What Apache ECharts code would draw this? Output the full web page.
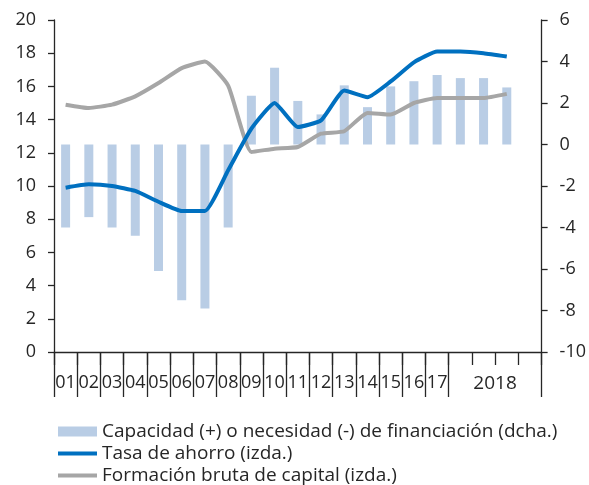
<!DOCTYPE html>
<html>
<head>
<meta charset="UTF-8">
<title>Ahorro e inversion</title>
<script type="text/javascript" src="https://cdn.jsdelivr.net/npm/echarts@6/dist/echarts.min.js"></script>
</head>
<body style="margin:0">
	<div id="div" style="width:589px;height:485px"></div>

	<script type="text/javascript">
		// categorias: 01..17 anuales y cuatro trimestres de 2018
		var categories = ['01', '02', '03', '04', '05', '06', '07', '08', '09', '10', '11', '12', '13', '14', '15', '16', '17', '18T1', '18T2', '18T3', '18T4'];
		var tickLabels = ['01', '02', '03', '04', '05', '06', '07', '08', '09', '10', '11', '12', '13', '14', '15', '16', '17', '', '2018', '', ''];
		var capacidad = [-4.0, -3.5, -4.0, -4.4, -6.1, -7.5, -7.9, -4.0, 2.35, 3.7, 2.1, 1.45, 2.85, 1.8, 2.8, 3.05, 3.35, 3.2, 3.2, 2.75, null];
		var ahorro = [9.9, 10.1, 10.0, 9.7, 9.05, 8.5, 8.5, 10.95, 13.45, 15.0, 13.55, 13.95, 15.75, 15.35, 16.3, 17.45, 18.1, 18.1, 18.0, 17.8, null];
		var formacion = [14.9, 14.7, 14.9, 15.4, 16.2, 17.1, 17.5, 16.05, 12.05, 12.25, 12.35, 13.15, 13.3, 14.4, 14.3, 15.0, 15.3, 15.3, 15.3, 15.55, null];
		var leftTicks = [0, 20, 2];
		var rightTicks = [-10, 6, 2];

		var fontName = 'Open Sans';
		var axisColor = '#262626';
		var hideDot = { color : 'rgba(0,0,0,0)', borderWidth : 0, opacity : 0 };

		var mychart = echarts.init(document.getElementById('div'));
		var option = {
			animation : false,
			textStyle : {
				fontFamily : fontName
			},
			grid : {
				left : 54,
				right : 47,
				top : 20,
				bottom : 133
			},
			legend : {
				orient : 'vertical',
				left : 56,
				top : 422,
				height : 64,
				padding : 0,
				itemWidth : 39,
				itemHeight : 10,
				itemGap : 3,
				textStyle : {
					fontFamily : fontName,
					fontSize : 19,
					lineHeight : 18,
					color : '#262626'
				},
				data : [ {
					name : 'Capacidad (+) o necesidad (-) de financiación (dcha.)',
					icon : 'rect'
				}, {
					name : 'Tasa de ahorro (izda.)',
					itemStyle : hideDot,
					lineStyle : { width : 4 }
				}, {
					name : 'Formación bruta de capital (izda.)',
					itemStyle : hideDot,
					lineStyle : { width : 4 }
				} ]
			},
			xAxis : [ {
				type : 'category',
				data : categories,
				position : 'bottom',
				axisLine : {
					show : true,
					onZero : false,
					lineStyle : { color : axisColor, width : 1.3 }
				},
				axisTick : {
					show : true,
					interval : 0,
					length : 13,
					lineStyle : { color : axisColor, width : 1.3 }
				},
				axisLabel : {
					interval : 0,
					margin : 22,
					color : '#262626',
					fontFamily : fontName,
					fontSize : 18,
					formatter : function(value, index) {
						var t = tickLabels[index];
						if (t === '2018') {
							return '{a|' + t + '}';
						}
						return t;
					},
					rich : {
						a : {
							padding : [0, 0, 0, 23],
							fontFamily : fontName,
							fontSize : 19,
							color : '#262626'
						}
					}
				}
			}, {
				type : 'category',
				data : categories,
				position : 'bottom',
				axisLine : { show : false, onZero : false },
				axisTick : {
					show : true,
					interval : function(index) {
						return index <= 17;
					},
					length : 45,
					lineStyle : { color : axisColor, width : 1.3 }
				},
				axisLabel : { show : false }
			} ],
			yAxis : [ {
				type : 'value',
				min : leftTicks[0],
				max : leftTicks[1],
				interval : leftTicks[2],
				splitLine : { show : false },
				axisLine : {
					show : true,
					lineStyle : { color : axisColor, width : 1.3 }
				},
				axisTick : {
					show : true,
					length : 6,
					lineStyle : { color : axisColor, width : 1.3 }
				},
				axisLabel : {
					margin : 18,
					color : '#262626',
					fontFamily : fontName,
					fontSize : 18
				}
			}, {
				type : 'value',
				min : rightTicks[0],
				max : rightTicks[1],
				interval : rightTicks[2],
				splitLine : { show : false },
				axisLine : {
					show : true,
					lineStyle : { color : axisColor, width : 1.3 }
				},
				axisTick : {
					show : true,
					length : 6,
					lineStyle : { color : axisColor, width : 1.3 }
				},
				axisLabel : {
					margin : 18,
					color : '#262626',
					fontFamily : fontName,
					fontSize : 18
				}
			} ],
			series : [ {
				name : 'Capacidad (+) o necesidad (-) de financiación (dcha.)',
				type : 'bar',
				yAxisIndex : 1,
				barWidth : 9,
				itemStyle : { color : '#b9cde5' },
				data : capacidad
			}, {
				name : 'Tasa de ahorro (izda.)',
				type : 'line',
				yAxisIndex : 0,
				symbol : 'none',
				smooth : 0.15,
				z : 4,
				itemStyle : { color : '#0070c0' },
				lineStyle : { color : '#0070c0', width : 4 },
				data : ahorro
			}, {
				name : 'Formación bruta de capital (izda.)',
				type : 'line',
				yAxisIndex : 0,
				symbol : 'none',
				smooth : 0.15,
				z : 3,
				itemStyle : { color : '#a6a6a6' },
				lineStyle : { color : '#a6a6a6', width : 4 },
				data : formacion
			} ]
		};
		mychart.setOption(option);
	</script>
</body>
</html>
